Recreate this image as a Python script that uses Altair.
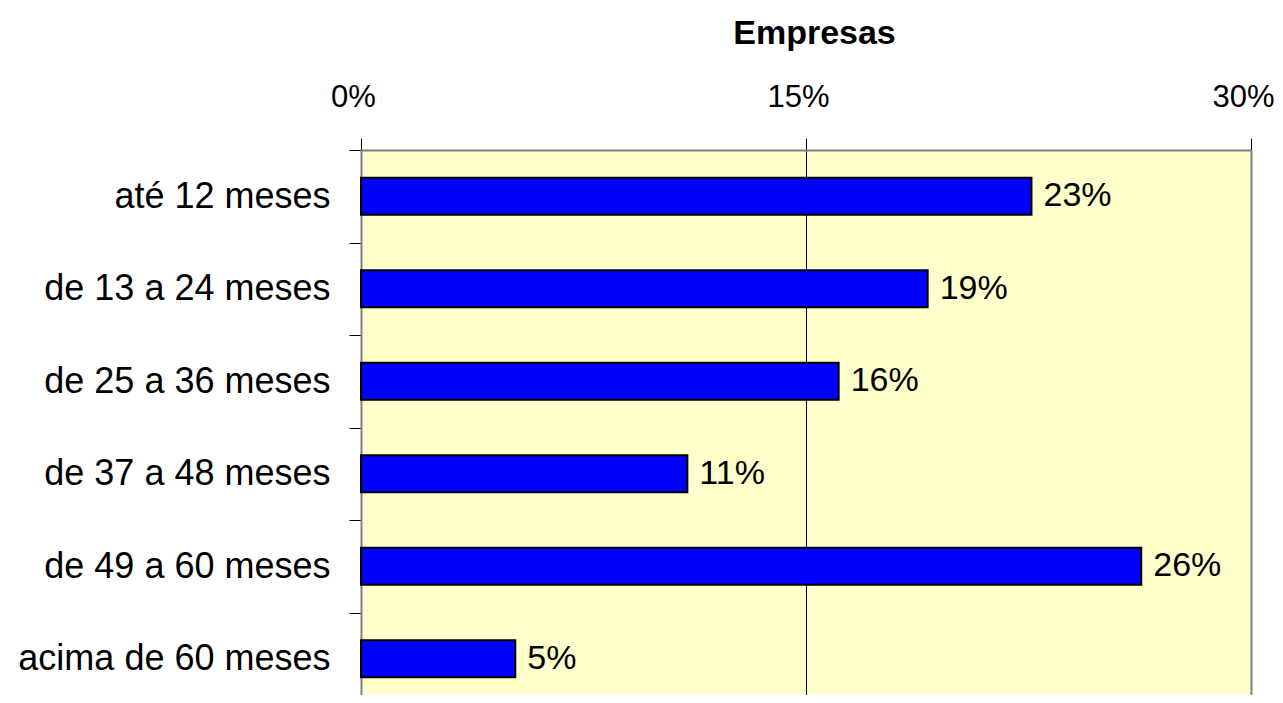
import altair as alt
import pandas as pd

categories = ["até 12 meses", "de 13 a 24 meses", "de 25 a 36 meses",
              "de 37 a 48 meses", "de 49 a 60 meses", "acima de 60 meses"]
values = [22.6, 19.1, 16.1, 11.0, 26.3, 5.2]
labels = ["23%", "19%", "16%", "11%", "26%", "5%"]
x_ticks = [0, 15, 30]

df = pd.DataFrame({"cat": categories, "val": values, "lab": labels})

FONT = "Liberation Sans"

yscale = alt.Scale(paddingInner=0, paddingOuter=0, range=[0, 555])
xscale = alt.Scale(domain=[0, 30], nice=False, zero=True)

bars = alt.Chart(df).mark_bar(fill="#0000FF", stroke="black", strokeWidth=2,
                              height=alt.RelativeBandSize(0.4)).encode(
    y=alt.Y("cat:N", sort=categories, scale=yscale,
            axis=alt.Axis(title=None, orient="left", domain=True, domainColor="#808080",
                          domainWidth=2, ticks=True, tickBand="extent", tickSize=12,
                          tickColor="black", tickWidth=1, labelFontSize=36, labelFont=FONT,
                          labelColor="black", labelPadding=19, labelLimit=0, grid=False)),
    x=alt.X("val:Q", scale=xscale,
            axis=alt.Axis(orient="top", values=x_ticks, labelExpr="datum.value + '%'",
                          labelFlush=False, labelFont=FONT, labelFontSize=31, labelOffset=-8,
                          labelColor="black", labelBaseline="alphabetic", labelPadding=32,
                          tickSize=12, tickColor="black", tickWidth=1,
                          domain=True, domainColor="#808080", domainWidth=2,
                          grid=True, gridWidth=1,
                          gridColor=alt.condition("datum.value == 15", alt.value("black"), alt.value("transparent")),
                          title="Empresas", titleFont=FONT, titleFontSize=34,
                          titleFontWeight="bold", titleColor="black", titleX=453, titleY=-107,
                          titleBaseline="alphabetic", titleAlign="center")),
)

text = alt.Chart(df).mark_text(align="left", baseline="middle", dx=12, fontSize=34,
                               font=FONT, color="black").encode(
    y=alt.Y("cat:N", sort=categories, scale=yscale,
            axis=alt.Axis(title=None, orient="right", domain=True, domainColor="#808080",
                          domainWidth=2, ticks=False, labels=False, grid=False)),
    x=alt.X("val:Q", scale=xscale),
    text="lab:N",
)

chart = alt.layer(bars, text).resolve_axis(y="independent").properties(
    width=890, height=545, autosize="none",
    padding={"left": 353, "top": 142, "right": 24, "bottom": 0},
).configure_view(fill="#FFFFCC", stroke=None)

chart.save("out.html", embed_options={"renderer": "svg", "actions": False})
